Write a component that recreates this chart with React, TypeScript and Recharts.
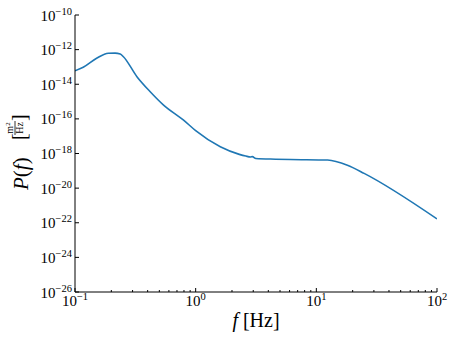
import React from "react";
import { LineChart, Line, XAxis, YAxis } from "recharts";

const freqs = [0.1, 0.117, 0.151, 0.189, 0.215, 0.237, 0.252, 0.326, 0.42, 0.542, 0.794, 1.0, 1.6, 2.3, 2.6, 2.85, 2.95, 3.15, 4.6, 6.1, 12.4, 18.1, 24.9, 100];
const power = [6.0e-14, 9.5e-14, 3.16e-13, 6.17e-13, 6.3e-13, 5.62e-13, 3.89e-13, 2.75e-14, 3.72e-15, 6.3e-16, 8.5e-17, 2.1e-17, 2.45e-18, 8.9e-19, 7.1e-19, 6.3e-19, 6.6e-19, 5.1e-19, 4.7e-19, 4.5e-19, 4.2e-19, 2.1e-19, 7.1e-20, 1.66e-22];

const xMajorTicks = [0.1, 1, 10, 100];
const xMinorMultipliers = [2, 3, 4, 5, 6, 7, 8, 9];
const yMajorTicks = [1e-26, 1e-24, 1e-22, 1e-20, 1e-18, 1e-16, 1e-14, 1e-12, 1e-10];

const data = freqs.map((f, i) => ({ f, p: power[i] }));
const xTicks: number[] = [];
xMajorTicks.forEach((m, i) => {
  xTicks.push(m);
  if (i < xMajorTicks.length - 1) xMinorMultipliers.forEach((k) => xTicks.push(+(m * k).toPrecision(3)));
});

const FONT = "Liberation Serif";
const isMajor = (v: number) => Math.abs(Math.log10(v) - Math.round(Math.log10(v))) < 1e-6;
const expOf = (v: number) => {
  const e = Math.round(Math.log10(v));
  return e < 0 ? "\u2212" + String(-e) : String(e);
};

const XBottomTick = (props: any) => {
  const { x, y, payload } = props;
  const v = payload.value;
  const major = isMajor(v);
  return (
    <g>
      <line x1={x} x2={x} y1={y} y2={y - (major ? 4 : 2)} stroke="#000" strokeWidth={1} />
      {major && (
        <text x={x} y={y + 14} textAnchor="middle" fontFamily={FONT} fontSize={15} fill="#000">
          10
          <tspan dy={-6} fontSize={10.5}>{expOf(v)}</tspan>
        </text>
      )}
    </g>
  );
};

const XTopTick = (props: any) => {
  const { x, y, payload } = props;
  const major = isMajor(payload.value);
  return <line x1={x} x2={x} y1={y} y2={y + (major ? 4 : 2)} stroke="#000" strokeWidth={1} />;
};

const YLeftTick = (props: any) => {
  const { x, y, payload } = props;
  return (
    <g>
      <line x1={x} x2={x + 4} y1={y} y2={y} stroke="#000" strokeWidth={1} />
      <text x={x - 3} y={y + 5.5} textAnchor="end" fontFamily={FONT} fontSize={15} fill="#000">
        10
        <tspan dy={-6} fontSize={10.5}>{expOf(payload.value)}</tspan>
      </text>
    </g>
  );
};

const YRightTick = (props: any) => {
  const { x, y } = props;
  return <line x1={x} x2={x - 4} y1={y} y2={y} stroke="#000" strokeWidth={1} />;
};

export default function App() {
  return (
    <div style={{ position: "absolute", left: 0, top: 0, width: 457, height: 343, background: "#fff", fontFamily: FONT }}>
      <LineChart width={457} height={343} data={data} margin={{ top: 15, right: 20, bottom: 0, left: 0 }} style={{ fontFamily: FONT }}>
        <XAxis
          xAxisId="bottom"
          dataKey="f"
          type="number"
          scale="log"
          domain={[0.1, 100]}
          allowDataOverflow
          ticks={xTicks}
          interval={0}
          tickSize={0}
          tickMargin={0}
          tickLine={false}
          height={51}
          axisLine={{ stroke: "#000", strokeWidth: 1 }}
          tick={<XBottomTick />}
        />
        <XAxis
          xAxisId="top"
          orientation="top"
          dataKey="f"
          type="number"
          scale="log"
          domain={[0.1, 100]}
          allowDataOverflow
          ticks={xTicks}
          interval={0}
          tickSize={0}
          tickMargin={0}
          tickLine={false}
          height={0}
          axisLine={{ stroke: "#000", strokeWidth: 1 }}
          tick={<XTopTick />}
        />
        <YAxis
          yAxisId="left"
          type="number"
          scale="log"
          domain={[1e-26, 1e-10]}
          allowDataOverflow
          ticks={yMajorTicks}
          interval={0}
          tickSize={0}
          tickMargin={0}
          tickLine={false}
          width={75}
          axisLine={{ stroke: "#000", strokeWidth: 1 }}
          tick={<YLeftTick />}
        />
        <YAxis
          yAxisId="right"
          orientation="right"
          type="number"
          scale="log"
          domain={[1e-26, 1e-10]}
          allowDataOverflow
          ticks={yMajorTicks}
          interval={0}
          tickSize={0}
          tickMargin={0}
          tickLine={false}
          width={0}
          axisLine={{ stroke: "#000", strokeWidth: 1 }}
          tick={<YRightTick />}
        />
        <Line
          xAxisId="bottom"
          yAxisId="left"
          dataKey="p"
          type="monotoneX"
          stroke="#1f77b4"
          strokeWidth={1.6}
          dot={false}
          isAnimationActive={false}
        />
        <text x={256} y={327} textAnchor="middle" fontFamily={FONT} fontSize={20} fill="#000">
          <tspan fontStyle="italic">f</tspan> [Hz]
        </text>
        <g transform="translate(20,152) rotate(-90)" fill="#000" fontFamily={FONT}>
          <text x={-38} y={8} fontSize={21}>
            <tspan fontStyle="italic">P</tspan>(<tspan fontStyle="italic">f</tspan>)
          </text>
          <text x={12} y={6} fontSize={20}>[</text>
          <text x={24} y={-7} textAnchor="middle" fontSize={10}>m<tspan dy={-3} fontSize={7}>2</tspan></text>
          <line x1={17} x2={31} y1={-5} y2={-5} stroke="#000" strokeWidth={0.8} />
          <text x={24} y={3} textAnchor="middle" fontSize={10}>Hz</text>
          <text x={31} y={6} fontSize={20}>]</text>
        </g>
      </LineChart>
    </div>
  );
}
